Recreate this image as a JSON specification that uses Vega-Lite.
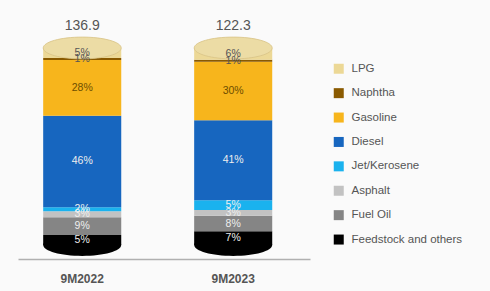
{
  "$schema": "https://vega.github.io/schema/vega-lite/v6.json",
  "width": 292,
  "height": 197,
  "autosize": "none",
  "padding": {"left": 18, "top": 48, "right": 180, "bottom": 46},
  "background": "#fafafa",
  "config": {
    "view": {"stroke": null},
    "font": "Liberation Sans"
  },
  "datasets": {
    "seg": [
      {"period": "9M2022", "product": "Feedstock and others", "value": 5, "order": 1},
      {"period": "9M2022", "product": "Fuel Oil", "value": 9, "order": 2},
      {"period": "9M2022", "product": "Asphalt", "value": 3, "order": 3},
      {"period": "9M2022", "product": "Jet/Kerosene", "value": 2, "order": 4},
      {"period": "9M2022", "product": "Diesel", "value": 46, "order": 5},
      {"period": "9M2022", "product": "Gasoline", "value": 28, "order": 6},
      {"period": "9M2022", "product": "Naphtha", "value": 1, "order": 7},
      {"period": "9M2022", "product": "LPG", "value": 5, "order": 8},
      {"period": "9M2023", "product": "Feedstock and others", "value": 7, "order": 1},
      {"period": "9M2023", "product": "Fuel Oil", "value": 8, "order": 2},
      {"period": "9M2023", "product": "Asphalt", "value": 3, "order": 3},
      {"period": "9M2023", "product": "Jet/Kerosene", "value": 5, "order": 4},
      {"period": "9M2023", "product": "Diesel", "value": 41, "order": 5},
      {"period": "9M2023", "product": "Gasoline", "value": 30, "order": 6},
      {"period": "9M2023", "product": "Naphtha", "value": 1, "order": 7},
      {"period": "9M2023", "product": "LPG", "value": 6, "order": 8}
    ],
    "tot": [
      {"period": "9M2022", "total": "136.9"},
      {"period": "9M2023", "total": "122.3"}
    ]
  },
  "encoding": {
    "x": {
      "field": "period",
      "type": "nominal",
      "scale": {"paddingInner": 0.483, "paddingOuter": 0.2085, "align": 0.4},
      "axis": {
        "title": null,
        "labelAngle": 0,
        "ticks": false,
        "offset": 14,
        "domainColor": "#b0b0b0",
        "domainWidth": 1.5,
        "labelFont": "Liberation Sans",
        "labelFontWeight": "bold",
        "labelFontSize": 12,
        "labelColor": "#555555",
        "labelPadding": 14
      }
    }
  },
  "layer": [
    {
      "data": {"name": "tot"},
      "mark": {"type": "point", "shape": "M-1,0A1,0.28,0,1,0,1,0A1,0.28,0,1,0,-1,0Z", "size": 6084, "filled": true, "opacity": 1, "color": "#000000"},
      "encoding": {"y": {"datum": 0, "type": "quantitative", "scale": {"domain": [0, 1]}, "axis": null}}
    },
    {
      "data": {"name": "seg"},
      "transform": [
        {"stack": "value", "groupby": ["period"], "sort": [{"field": "order", "order": "ascending"}], "offset": "normalize", "as": ["y0", "y1"]}
      ],
      "mark": {"type": "bar", "width": {"band": 1}},
      "encoding": {
        "y": {"field": "y0", "type": "quantitative", "scale": {"domain": [0, 1]}, "axis": null},
        "y2": {"field": "y1"},
        "color": {
          "field": "product",
          "type": "nominal",
          "scale": {
            "domain": ["LPG", "Naphtha", "Gasoline", "Diesel", "Jet/Kerosene", "Asphalt", "Fuel Oil", "Feedstock and others"],
            "range": ["#ecd896", "#8a5a00", "#f7b51c", "#1766bf", "#1ab2ee", "#c2c2c2", "#858585", "#000000"]
          },
          "legend": {
            "title": null,
            "orient": "none",
            "legendX": 315,
            "legendY": 15,
            "symbolType": "square",
            "symbolSize": 100,
            "symbolStrokeWidth": 0,
            "labelFontSize": 11.5,
            "labelColor": "#555555",
            "labelFont": "Liberation Sans",
            "rowPadding": 11.4,
            "labelOffset": 7
          }
        }
      }
    },
    {
      "data": {"name": "tot"},
      "mark": {"type": "point", "shape": "M-1,0A1,0.28,0,1,0,1,0A1,0.28,0,1,0,-1,0Z", "size": 6084, "filled": true, "opacity": 1, "color": "#ecdca5", "stroke": "#d8c386", "strokeWidth": 0.8},
      "encoding": {"y": {"datum": 1, "type": "quantitative"}}
    },
    {
      "data": {"name": "seg"},
      "transform": [
        {"stack": "value", "groupby": ["period"], "sort": [{"field": "order", "order": "ascending"}], "offset": "normalize", "as": ["y0", "y1"]},
        {"calculate": "(datum.y0 + datum.y1) / 2", "as": "ymid"},
        {"calculate": "datum.value + '%'", "as": "label"}
      ],
      "mark": {"type": "text", "fontSize": 10.5, "font": "Liberation Sans", "baseline": "middle"},
      "encoding": {
        "y": {"field": "ymid", "type": "quantitative"},
        "text": {"field": "label"},
        "color": {
          "condition": [
            {"test": "datum.product === 'Gasoline'", "value": "#6e4e00"},
            {"test": "datum.product === 'LPG' || datum.product === 'Naphtha'", "value": "#555555"}
          ],
          "value": "#eeeeee"
        }
      }
    },
    {
      "data": {"name": "tot"},
      "mark": {"type": "text", "fontSize": 14, "font": "Liberation Sans", "color": "#555555", "dy": -22, "baseline": "middle"},
      "encoding": {
        "y": {"datum": 1, "type": "quantitative"},
        "text": {"field": "total"}
      }
    }
  ]
}
